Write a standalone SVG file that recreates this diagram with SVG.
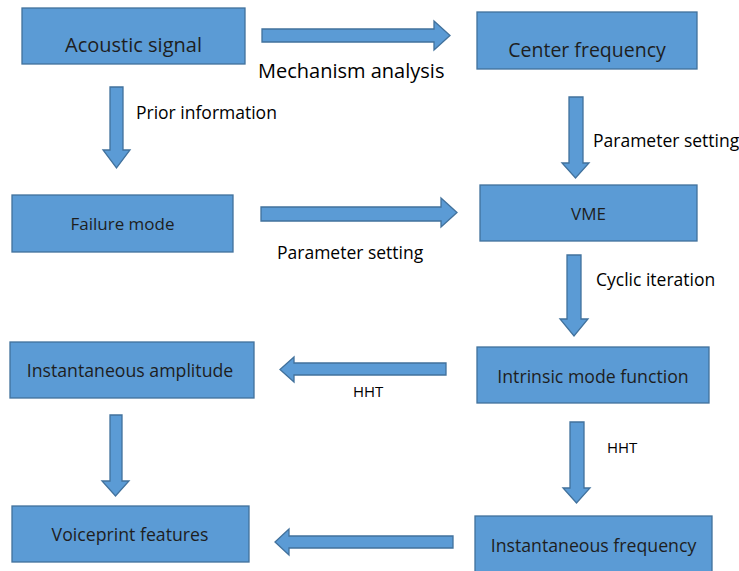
<svg xmlns="http://www.w3.org/2000/svg" width="739" height="571" viewBox="0 0 739 571">
<style>
.box{fill:#5B9BD5;stroke:#41719C;stroke-width:1.3}
.arr{fill:#5B9BD5;stroke:#41719C;stroke-width:1.3;stroke-linejoin:miter}
.bt{font-family:"Open Sans","Noto Sans",sans-serif;font-size:17.7px;fill:#1e1e1e;text-anchor:middle}
.big{font-size:20px}
.lb{font-family:"Open Sans","Noto Sans",sans-serif;font-size:17.5px;fill:#000}
.sm{font-family:"Open Sans","Noto Sans",sans-serif;font-size:15px;fill:#000}
</style>
<rect width="739" height="571" fill="#fff"/>
<g id="n-acoustic"><rect class="box" x="22" y="8" width="223" height="56"/><text class="bt big" x="133.5" y="52">Acoustic signal</text></g>
<g id="n-center"><rect class="box" x="477" y="12" width="220" height="57"/><text class="bt" style="font-size:19.5px" x="587" y="57">Center frequency</text></g>
<g id="n-failure"><rect class="box" x="12" y="195" width="221" height="57"/><text class="bt" style="font-size:17px" x="122.5" y="230">Failure mode</text></g>
<g id="n-vme"><rect class="box" x="480" y="185" width="217" height="56"/><text class="bt" style="font-size:17px" x="588.5" y="220">VME</text></g>
<g id="n-imf"><rect class="box" x="477" y="347" width="232" height="56"/><text class="bt" x="593" y="383">Intrinsic mode function</text></g>
<g id="n-amp"><rect class="box" x="10" y="342" width="244" height="56"/><text class="bt" x="130" y="377">Instantaneous amplitude</text></g>
<g id="n-freq"><rect class="box" x="475" y="516" width="237" height="58"/><text class="bt" x="593.5" y="552">Instantaneous frequency</text></g>
<g id="n-voice"><rect class="box" x="12" y="506" width="237" height="56"/><text class="bt" x="130" y="541">Voiceprint features</text></g>
<g id="connectors">
<polygon class="arr" points="262,29 434,29 434,21 450,35.5 434,50 434,42 262,42"/>
<polygon class="arr" points="110,87 123,87 123,150 130,150 116.5,168 103,150 110,150"/>
<polygon class="arr" points="569,97 583,97 583,163 589,163 575.5,178 562,163 569,163"/>
<polygon class="arr" points="261,207 441,207 441,198 457,212.5 441,227 441,221 261,221"/>
<polygon class="arr" points="567,255 581,255 581,319 588,319 574,336 560,319 567,319"/>
<polygon class="arr" points="446,363 294,363 294,357 280,369.5 294,382 294,375 446,375"/>
<polygon class="arr" points="570,422 584,422 584,488 590,488 576.5,503 563,488 570,488"/>
<polygon class="arr" points="453,536 289,536 289,529 275,542 289,555 289,548 453,548"/>
<polygon class="arr" points="110,415 122,415 122,481 129,481 115.5,496 102,481 110,481"/>
</g>
<g id="labels">
<text class="lb" style="font-size:20px" x="258" y="78">Mechanism analysis</text>
<text class="lb" x="136" y="119">Prior information</text>
<text class="lb" x="593" y="147">Parameter setting</text>
<text class="lb" x="277" y="259">Parameter setting</text>
<text class="lb" x="596" y="286">Cyclic iteration</text>
<text class="sm" x="353" y="397">HHT</text>
<text class="sm" x="607" y="453">HHT</text>
</g>
</svg>
